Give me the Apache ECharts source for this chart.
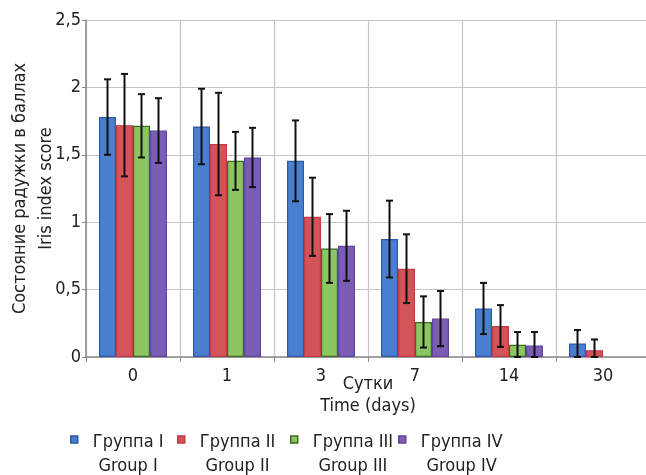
<!DOCTYPE html>
<html><head><meta charset="utf-8">
<script src="https://cdn.jsdelivr.net/npm/echarts@6/dist/echarts.min.js"></script>
<style>html,body{margin:0;padding:0;background:#fff}#c{width:646px;height:475px}</style>
</head><body><div id="c"></div>
<script>
var categories = ['0', '1', '3', '7', '14', '30'];
var seriesNames = ['Группа I', 'Группа II', 'Группа III', 'Группа IV'];
var seriesNamesEn = ['Group I', 'Group II', 'Group III', 'Group IV'];
var group1 = [1.78, 1.71, 1.455, 0.875, 0.36, 0.10];
var group2 = [1.72, 1.58, 1.04, 0.655, 0.23, 0.05];
var group3 = [1.715, 1.455, 0.805, 0.26, 0.09, 0];
var group4 = [1.68, 1.48, 0.825, 0.285, 0.085, 0];
var err1 = [0.28, 0.28, 0.30, 0.285, 0.19, 0.10];
var err2 = [0.38, 0.38, 0.29, 0.255, 0.155, 0.08];
var err3 = [0.235, 0.215, 0.255, 0.19, 0.095, 0];
var err4 = [0.24, 0.22, 0.26, 0.205, 0.10, 0];
var yTicks = ['0', '0,5', '1', '1,5', '2', '2,5'];

var FONT = '"Liberation Sans Narrow", "DejaVu Sans Condensed", sans-serif';
var fills = ['#4a7fd0', '#d25458', '#8dc563', '#7c5db4'];
var borders = ['#2c5aa8', '#c23a48', '#3d6b22', '#6243a0'];
var legendLeft = [70, 177, 290, 398];
var values = [group1, group2, group3, group4];
var errs = [err1, err2, err3, err4];
var BAR_W = 17;

var chart = echarts.init(document.getElementById('c'), null, {renderer: 'canvas'});
var series = [];
values.forEach(function (v, i) {
  series.push({
    name: seriesNames[i], type: 'bar',
    data: v.map(function (m) { return m === 0 ? '-' : m; }),
    barWidth: BAR_W, barGap: '0%',
    itemStyle: {color: fills[i], borderColor: borders[i], borderWidth: 1.2},
    z: 2
  });
});
values.forEach(function (v, i) {
  var d = [];
  v.forEach(function (m, k) {
    if (errs[i][k] > 0) d.push([k, Math.max(0, m - errs[i][k]), m + errs[i][k]]);
  });
  series.push({
    type: 'custom', data: d, z: 5, silent: true,
    renderItem: function (params, api) {
      var x = api.value(0);
      var lo = api.coord([x, api.value(1)]);
      var hi = api.coord([x, api.value(2)]);
      var cx = lo[0] + (i - 1.5) * BAR_W;
      var cap = 3.5;
      var st = {stroke: '#111', lineWidth: 2};
      return {type: 'group', children: [
        {type: 'line', shape: {x1: cx, y1: hi[1], x2: cx, y2: lo[1]}, style: st},
        {type: 'line', shape: {x1: cx - cap, y1: hi[1], x2: cx + cap, y2: hi[1]}, style: st},
        {type: 'line', shape: {x1: cx - cap, y1: lo[1], x2: cx + cap, y2: lo[1]}, style: st}
      ]};
    }
  });
});

var legends = seriesNames.map(function (n, i) {
  return {
    data: [{name: n, itemStyle: {color: fills[i], borderColor: borders[i], borderWidth: 1.5}}],
    left: legendLeft[i], top: 433, padding: 0,
    itemWidth: 17, itemHeight: 36,
    icon: 'path://M0,0L7,0L7,7L0,7Z M17,36L17,36',
    selectedMode: false,
    formatter: function (name) {
      return '{a|' + name + '}\n{a|' + seriesNamesEn[seriesNames.indexOf(name)] + '}';
    },
    textStyle: {
      fontFamily: FONT, fontSize: 18, color: '#222',
      rich: {a: {fontFamily: FONT, fontSize: 18, color: '#222', lineHeight: 24, align: 'center'}}
    }
  };
});

chart.setOption({
  animation: false,
  backgroundColor: '#fff',
  grid: {left: 86, top: 20, width: 564, height: 337, outerBoundsMode: 'none', containLabel: false},
  legend: legends,
  xAxis: {
    type: 'category', data: categories,
    name: 'Сутки\nTime (days)', nameLocation: 'middle', nameGap: 16, nameMoveOverlap: false,
    nameTextStyle: {fontFamily: FONT, fontSize: 18, color: '#222', lineHeight: 22},
    axisLine: {lineStyle: {color: '#8a8a8a', width: 1.5}},
    axisTick: {show: true, length: 5, lineStyle: {color: '#8a8a8a'}},
    axisLabel: {fontFamily: FONT, fontSize: 18, color: '#222', margin: 10},
    splitLine: {show: true, lineStyle: {color: '#c8c3c3', width: 1.2}}
  },
  yAxis: {
    type: 'value', min: 0, max: 2.5, interval: 0.5,
    name: 'Состояние радужки в баллах\nIris index score', nameLocation: 'middle', nameGap: 27, nameMoveOverlap: false,
    nameTextStyle: {fontFamily: FONT, fontSize: 18, color: '#222', lineHeight: 26},
    axisLine: {show: true, lineStyle: {color: '#8a8a8a', width: 1.5}},
    axisTick: {show: true, length: 4, lineStyle: {color: '#8a8a8a'}},
    axisLabel: {fontFamily: FONT, fontSize: 18, color: '#222', margin: 5,
      formatter: function (v) { return yTicks[Math.round(v / 0.5)]; }},
    splitLine: {show: true, lineStyle: {color: '#c8c3c3', width: 1.2}}
  },
  series: series
});
</script></body></html>
